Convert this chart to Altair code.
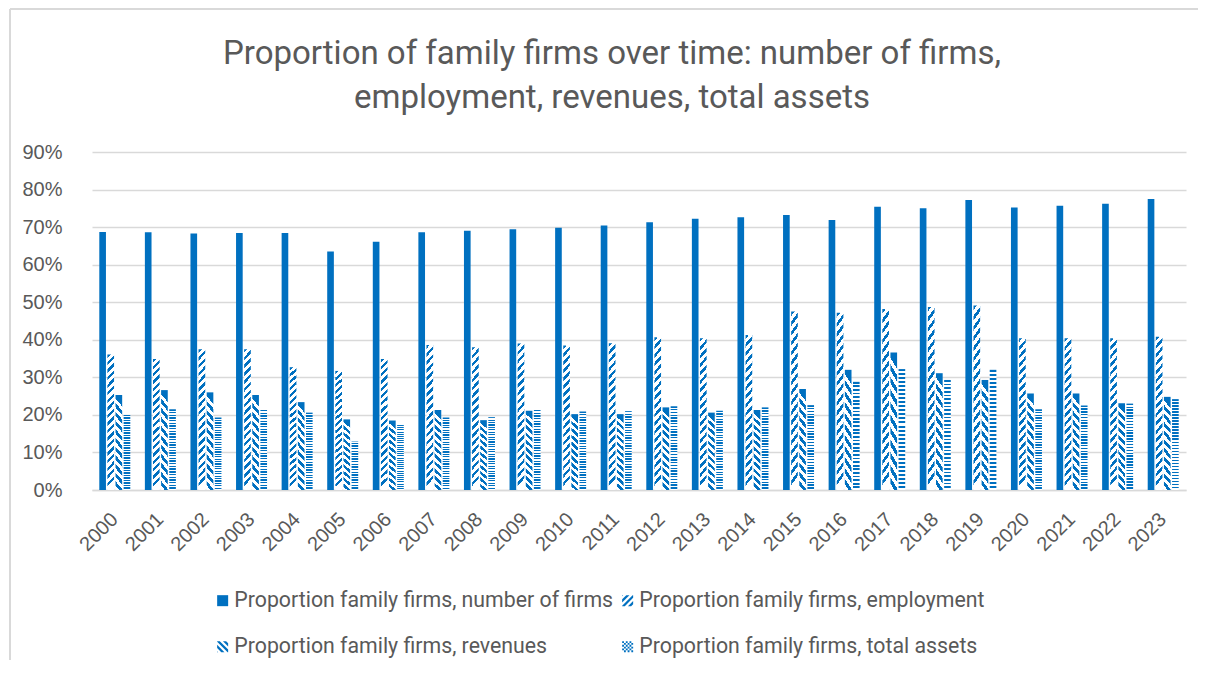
import altair as alt
import pandas as pd

years = [str(y) for y in range(2000, 2024)]
firms = [68.7, 68.6, 68.3, 68.4, 68.4, 63.5, 66.1, 68.6, 69.0, 69.4, 69.8, 70.4,
         71.3, 72.2, 72.6, 73.2, 71.9, 75.4, 75.0, 77.2, 75.2, 75.7, 76.2, 77.5]
employment = [36.1, 34.9, 37.5, 37.5, 32.7, 31.7, 34.9, 38.6, 38.0, 39.0, 38.5, 39.1,
              40.7, 40.4, 41.3, 47.5, 47.2, 48.2, 48.7, 49.1, 40.4, 40.4, 40.4, 40.8]
revenues = [25.3, 26.6, 26.0, 25.3, 23.4, 18.8, 18.5, 21.3, 18.6, 21.1, 20.2, 20.2,
            22.0, 20.6, 21.3, 26.9, 32.0, 36.6, 31.1, 29.3, 25.7, 25.7, 23.1, 24.8]
assets = [20.0, 21.5, 19.3, 21.3, 20.6, 12.9, 17.3, 19.3, 19.4, 21.3, 20.9, 21.0,
          22.3, 21.1, 22.0, 22.6, 28.8, 32.2, 29.3, 32.0, 21.5, 22.5, 23.0, 24.2]
series = ["Proportion family firms, number of firms",
          "Proportion family firms, employment",
          "Proportion family firms, revenues",
          "Proportion family firms, total assets"]

rows = []
for s, vals in zip(series, [firms, employment, revenues, assets]):
    for yr, v in zip(years, vals):
        rows.append({"year": yr, "series": s, "value": v / 100})
df = pd.DataFrame(rows)

BLUE = "#0070C0"
GRAY = "#595959"
LIGHT = "#D9D9D9"
FONT = "Roboto, Liberation Sans, sans-serif"
REG = "Liberation Sans, Arial, sans-serif"


# ---- fill patterns for the bars (hard-stop gradients) ----
def stripes(n, duty, x1, y1, x2, y2, dark=BLUE, light="#FFFFFF"):
    stops = []
    for k in range(n):
        s = round(k / n, 5)
        e = round((k + duty) / n, 5)
        f = round((k + 1) / n, 5)
        stops += [alt.GradientStop(offset=s, color=dark),
                  alt.GradientStop(offset=e, color=dark),
                  alt.GradientStop(offset=e, color=light),
                  alt.GradientStop(offset=f, color=light)]
    return alt.LinearGradient(gradient="linear", stops=stops, x1=x1, y1=y1, x2=x2, y2=y2)


grad_emp = stripes(18, 0.45, 0, 0, 0.05, 1)
grad_rev = stripes(11, 0.5, 0.08, 0, 0, 1)
grad_ast = stripes(30, 0.5, 0, 0, 0, 1)


# ---- pattern shapes for the legend symbols ----
def clip_square(poly):
    def clip(pts, inside, inter):
        out = []
        for i in range(len(pts)):
            cur, prev = pts[i], pts[i - 1]
            if inside(cur):
                if not inside(prev):
                    out.append(inter(prev, cur))
                out.append(cur)
            elif inside(prev):
                out.append(inter(prev, cur))
        return out

    def ix(v):
        return (lambda p: p[0] >= v if v < 0 else p[0] <= v,
                lambda a, b: (v, a[1] + (b[1] - a[1]) * (v - a[0]) / (b[0] - a[0])))

    def iy(v):
        return (lambda p: p[1] >= v if v < 0 else p[1] <= v,
                lambda a, b: (a[0] + (b[0] - a[0]) * (v - a[1]) / (b[1] - a[1]), v))

    pts = poly
    for f in (ix(-1), ix(1), iy(-1), iy(1)):
        if not pts:
            break
        pts = clip(pts, *f)
    return pts


def to_path(polys):
    parts = []
    for p in polys:
        if len(p) < 3:
            continue
        parts.append("M" + "L".join(f"{x:.3f},{y:.3f}" for x, y in p) + "Z")
    return "".join(parts)


def diag_path(sign, period=1.15, t=0.58):
    polys = []
    c = -2.4
    while c < 2.4:
        if sign > 0:   # "/" stripes: x + y = c
            band = [(c + 3, -3), (c + t + 3, -3), (c + t - 3, 3), (c - 3, 3)]
        else:          # "\" stripes: x - y = c
            band = [(c - 3, -3), (c + t - 3, -3), (c + t + 3, 3), (c + 3, 3)]
        polys.append(clip_square(band))
        c += period
    return to_path(polys)


def checker_path(n=6):
    s = 2 / n
    polys = []
    for i in range(n):
        for j in range(n):
            if (i + j) % 2 == 0:
                x0, y0 = -1 + i * s, -1 + j * s
                polys.append([(x0, y0), (x0 + s, y0), (x0 + s, y0 + s), (x0, y0 + s)])
    return to_path(polys)


shapes = ["M-1,-1L1,-1L1,1L-1,1Z", diag_path(1), diag_path(-1), checker_path()]

x_enc = alt.X("year:N", title=None,
              scale=alt.Scale(paddingInner=0.32, paddingOuter=0.16),
              axis=alt.Axis(labelAngle=-45, labelAlign="right", labelBaseline="middle",
                            labelPadding=26, ticks=False, domainColor=LIGHT,
                            domainWidth=1.5, labelFontSize=20))
xo_enc = alt.XOffset("series:N", sort=series,
                     scale=alt.Scale(domain=series, paddingInner=0.18, paddingOuter=0))
y_enc = alt.Y("value:Q", title=None,
              scale=alt.Scale(domain=[0, 0.9], nice=False),
              axis=alt.Axis(format=".0%", values=[i / 10 for i in range(10)],
                            ticks=False, domain=False, labelPadding=30,
                            gridColor=LIGHT, gridWidth=1.5, labelFontSize=20))

# chart-area frame (decorative, drawn in pixels outside the plot)
frame_df = pd.DataFrame({"k": [0]})
frame_left = alt.Chart(frame_df).mark_rule(color=LIGHT, strokeWidth=2).encode(
    x=alt.value(-82), y=alt.value(-143), y2=alt.value(540))
frame_top = alt.Chart(frame_df).mark_rule(color=LIGHT, strokeWidth=2).encode(
    x=alt.value(-82), x2=alt.value(1200), y=alt.value(-143), y2=alt.value(-143))

layers = [frame_left, frame_top]
for s, g in zip(series, [BLUE, grad_emp, grad_rev, grad_ast]):
    layers.append(
        alt.Chart(df).transform_filter(alt.datum.series == s)
        .mark_bar(color=g)
        .encode(x=x_enc, xOffset=xo_enc, y=y_enc)
    )

leg = alt.Legend(title=None, orient="none", legendX=120, legendY=438,
                 columns=2, direction="horizontal",
                 symbolSize=121, symbolStrokeWidth=0, symbolOpacity=1,
                 labelFontSize=21.3, labelFont=FONT, labelColor=GRAY,
                 labelLimit=0, labelOffset=1, columnPadding=3,
                 rowPadding=24, padding=0)

legend_layer = alt.Chart(df).transform_filter("false").mark_point(
    filled=True, opacity=1, strokeWidth=0
).encode(
    color=alt.Color("series:N", sort=series,
                    scale=alt.Scale(domain=series, range=[BLUE] * 4), legend=leg),
    shape=alt.Shape("series:N", sort=series,
                    scale=alt.Scale(domain=series, range=shapes), legend=leg),
)
layers.append(legend_layer)

chart = alt.layer(*layers).properties(
    width=1094, height=338,
    autosize=alt.AutoSizeParams(type="none"),
    padding={"left": 84, "top": 144, "right": 12, "bottom": 170},
    title=alt.Title(text=["Proportion of family firms over time: number of firms,",
                          "employment, revenues, total assets"],
                    fontSize=33, font=FONT, color=GRAY, fontWeight="normal",
                    lineHeight=44, anchor="middle", offset=-107, dx=-27),
).configure_view(stroke=None).configure_axis(
    labelColor=GRAY, labelFont=REG
)

chart.save("out.html", embed_options={"renderer": "svg", "actions": False})
